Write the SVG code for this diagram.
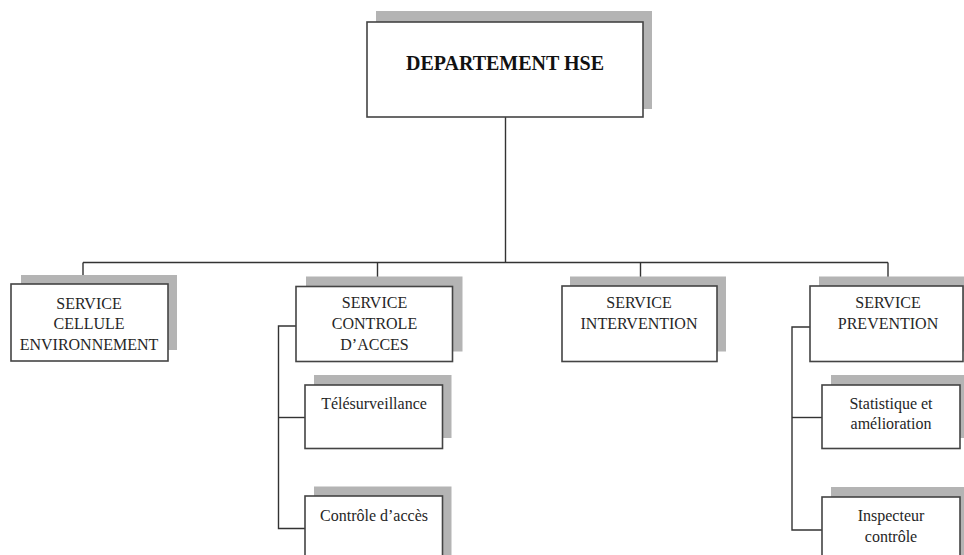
<svg xmlns="http://www.w3.org/2000/svg" width="964" height="555" viewBox="0 0 964 555">
  <style>
    .shadow { fill: #b4b4b4; stroke: none; }
    .box { fill: #ffffff; stroke: #444444; stroke-width: 1.6; }
    .lbl { font-family: "Liberation Serif", "Times New Roman", serif; font-size: 16px; fill: #262626; text-anchor: middle; }
    .title { font-family: "Liberation Serif", "Times New Roman", serif; font-size: 20px; font-weight: bold; fill: #111111; text-anchor: middle; }
    .wire { fill: none; stroke: #333333; stroke-width: 1.4; }
  </style>
  <rect width="964" height="555" fill="#ffffff"/>

  <!-- connectors -->
  <g id="connectors">
    <path class="wire" d="M505.5 117 V262.5"/>
    <path class="wire" d="M83 262.5 H888"/>
    <path class="wire" d="M83 262.5 V284"/>
    <path class="wire" d="M377.5 262.5 V286.5"/>
    <path class="wire" d="M640.5 262.5 V286"/>
    <path class="wire" d="M888 262.5 V286"/>
    <!-- controle d'acces branch -->
    <path class="wire" d="M296 326 H278.5 V528.5 H305"/>
    <path class="wire" d="M278.5 417.5 H305"/>
    <!-- prevention branch -->
    <path class="wire" d="M810 327 H792 V530 H822"/>
    <path class="wire" d="M792 417.5 H822"/>
  </g>

  <g id="departement-hse">
    <rect class="shadow" x="376" y="11" width="276" height="98"/>
    <rect class="box" x="367" y="22" width="276" height="95"/>
    <text class="title" x="505" y="70">DEPARTEMENT HSE</text>
  </g>

  <g id="service-cellule-environnement">
    <rect class="shadow" x="21" y="275" width="156" height="75"/>
    <rect class="box" x="11" y="284" width="157" height="77"/>
    <text class="lbl" x="89" y="308.5">SERVICE</text>
    <text class="lbl" x="89" y="329">CELLULE</text>
    <text class="lbl" x="89" y="349.5">ENVIRONNEMENT</text>
  </g>

  <g id="service-controle-acces">
    <rect class="shadow" x="306" y="276.5" width="156.5" height="75"/>
    <rect class="box" x="296" y="286.5" width="156.5" height="75"/>
    <text class="lbl" x="374.5" y="308">SERVICE</text>
    <text class="lbl" x="374.5" y="329">CONTROLE</text>
    <text class="lbl" x="374.5" y="350">D’ACCES</text>
  </g>

  <g id="service-intervention">
    <rect class="shadow" x="570" y="276.5" width="156" height="75"/>
    <rect class="box" x="562" y="286" width="155" height="75.5"/>
    <text class="lbl" x="639" y="308">SERVICE</text>
    <text class="lbl" x="639" y="329">INTERVENTION</text>
  </g>

  <g id="service-prevention">
    <rect class="shadow" x="819" y="276.5" width="150" height="75"/>
    <rect class="box" x="810" y="286" width="153" height="75.5"/>
    <text class="lbl" x="888" y="308">SERVICE</text>
    <text class="lbl" x="888" y="329">PREVENTION</text>
  </g>

  <g id="telesurveillance">
    <rect class="shadow" x="314" y="375" width="137.5" height="63"/>
    <rect class="box" x="305" y="385" width="137.5" height="63.5"/>
    <text class="lbl" x="374" y="409">Télésurveillance</text>
  </g>

  <g id="controle-acces">
    <rect class="shadow" x="314" y="486.5" width="137.5" height="70"/>
    <rect class="box" x="305" y="496" width="137.5" height="70"/>
    <text class="lbl" x="374" y="521">Contrôle d’accès</text>
  </g>

  <g id="statistique-amelioration">
    <rect class="shadow" x="831" y="375" width="138" height="63"/>
    <rect class="box" x="822" y="385" width="138" height="63.5"/>
    <text class="lbl" x="891" y="409">Statistique et</text>
    <text class="lbl" x="891" y="429">amélioration</text>
  </g>

  <g id="inspecteur-controle">
    <rect class="shadow" x="831" y="487" width="138" height="70"/>
    <rect class="box" x="822" y="497" width="138" height="70"/>
    <text class="lbl" x="891" y="521">Inspecteur</text>
    <text class="lbl" x="891" y="542">contrôle</text>
  </g>
</svg>
